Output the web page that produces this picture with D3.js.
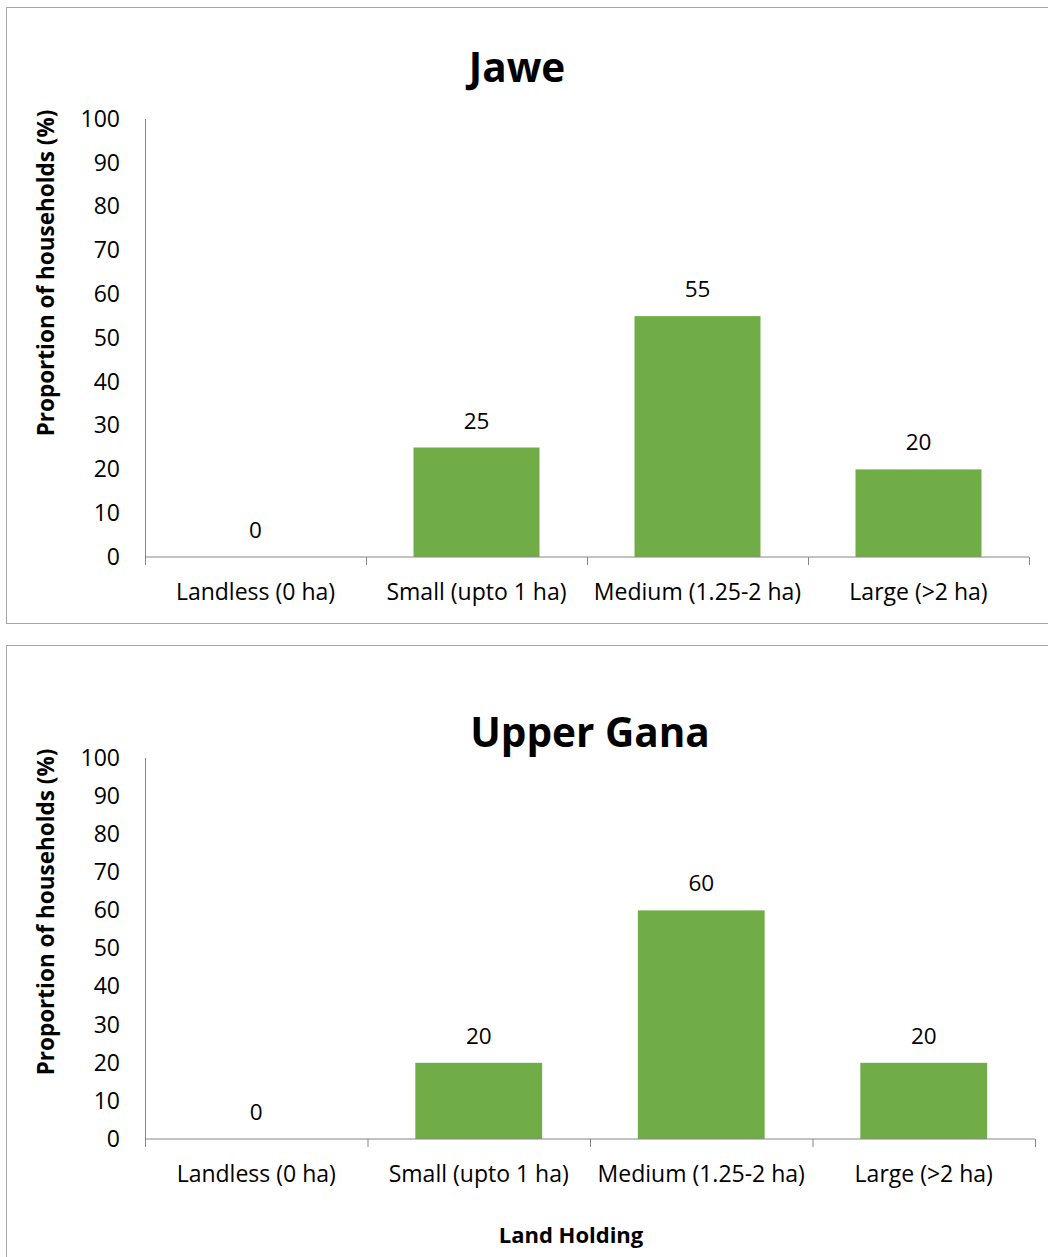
<!DOCTYPE html>
<html>
<head>
<meta charset="utf-8">
<script src="https://cdn.jsdelivr.net/npm/d3@7"></script>
<style>
  html, body { margin: 0; padding: 0; background: #fff; }
  svg { display: block; }
  text { font-family: "Open Sans", Lato, sans-serif; fill: #000; }
</style>
</head>
<body>
<svg id="chart" width="1048" height="1257"></svg>
<script>
// Land holding categories shared by both villages
const categories = ["Landless (0 ha)", "Small (upto 1 ha)", "Medium (1.25-2 ha)", "Large (>2 ha)"];
// Proportion of households (%) per category
const jaweValues = [0, 25, 55, 20];
const upperGanaValues = [0, 20, 60, 20];
const yTicks = [0, 10, 20, 30, 40, 50, 60, 70, 80, 90, 100];

const svg = d3.select("#chart");
const green = "#70AD47";
const axisColor = "#868686";
const font = '"Open Sans", Lato, sans-serif';

const panels = [
  { title: "Jawe", values: jaweValues,
    box: { x: 6.5, y: 7.5, w: 1060, h: 616 },
    plot: { left: 145, right: 1029, top: 119, bottom: 557 },
    titleX: 517, titleY: 82, yTitleY: 273, xTitle: null },
  { title: "Upper Gana", values: upperGanaValues,
    box: { x: 6.5, y: 645.5, w: 1060, h: 640 },
    plot: { left: 145, right: 1035, top: 758, bottom: 1139 },
    titleX: 590, titleY: 747, yTitleY: 912, xTitle: "Land Holding" }
];

panels.forEach(p => {
  const g = svg.append("g");
  // panel frame
  g.append("rect")
    .attr("x", p.box.x).attr("y", p.box.y)
    .attr("width", p.box.w).attr("height", p.box.h)
    .attr("fill", "#fff").attr("stroke", "#A6A6A6").attr("stroke-width", 1);

  const x = d3.scaleBand().domain(categories)
    .range([p.plot.left, p.plot.right]).paddingInner(0.43).paddingOuter(0.215);
  const y = d3.scaleLinear().domain([0, 100]).range([p.plot.bottom, p.plot.top]);

  // bars
  g.selectAll("rect.bar").data(p.values).join("rect")
    .attr("class", "bar")
    .attr("x", (d, i) => x(categories[i]))
    .attr("y", d => y(d))
    .attr("width", x.bandwidth())
    .attr("height", d => y(0) - y(d))
    .attr("fill", green);

  // value labels
  g.selectAll("text.val").data(p.values).join("text")
    .attr("class", "val")
    .attr("x", (d, i) => x(categories[i]) + x.bandwidth() / 2)
    .attr("y", d => y(d) - 19)
    .attr("text-anchor", "middle")
    .attr("font-size", 22.5)
    .text(d => d);

  // y axis
  const yAxis = g.append("g")
    .attr("transform", `translate(${p.plot.left},0)`)
    .call(d3.axisLeft(y).tickValues(yTicks).tickSize(0).tickPadding(25));
  yAxis.select(".domain").attr("stroke", axisColor).attr("d", `M0.5,${p.plot.top}V${p.plot.bottom}`);
  yAxis.selectAll("text").attr("font-size", 23).attr("font-family", font).attr("fill", "#000");

  // x axis with category boundary ticks
  const xAxis = g.append("g")
    .attr("transform", `translate(0,${p.plot.bottom})`);
  xAxis.append("line")
    .attr("x1", p.plot.left).attr("x2", p.plot.right)
    .attr("stroke", axisColor);
  const step = (p.plot.right - p.plot.left) / categories.length;
  xAxis.selectAll("line.tk").data(d3.range(categories.length + 1)).join("line")
    .attr("class", "tk")
    .attr("x1", i => p.plot.left + i * step + 0.5).attr("x2", i => p.plot.left + i * step + 0.5)
    .attr("y1", 0).attr("y2", 8)
    .attr("stroke", axisColor);
  xAxis.selectAll("text").data(categories).join("text")
    .attr("x", d => x(d) + x.bandwidth() / 2)
    .attr("y", 43)
    .attr("text-anchor", "middle")
    .attr("font-size", 23)
    .text(d => d);

  // titles
  g.append("text")
    .attr("x", p.titleX).attr("y", p.titleY)
    .attr("text-anchor", "middle")
    .attr("font-size", 40.5).attr("font-weight", "bold")
    .text(p.title);

  g.append("text")
    .attr("transform", `translate(54,${p.yTitleY}) rotate(-90)`)
    .attr("text-anchor", "middle")
    .attr("font-size", 22.5).attr("font-weight", "bold")
    .text("Proportion of households (%)");

  if (p.xTitle) {
    g.append("text")
      .attr("x", 571).attr("y", 1243)
      .attr("text-anchor", "middle")
      .attr("font-size", 22).attr("font-weight", "bold")
      .text(p.xTitle);
  }
});
</script>
</body>
</html>
